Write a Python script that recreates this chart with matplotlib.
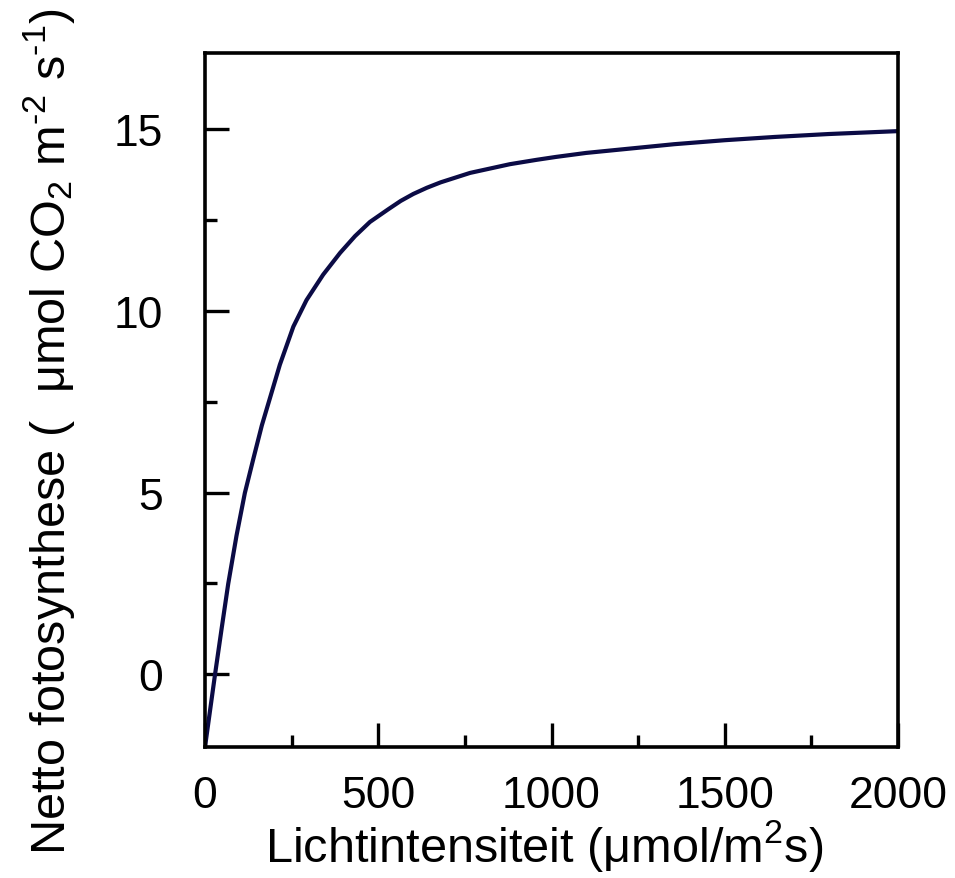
import matplotlib
matplotlib.use("Agg")
import matplotlib.pyplot as plt
from matplotlib.ticker import MultipleLocator

plt.rcParams['font.family'] = ['Liberation Sans', 'DejaVu Sans']
plt.rcParams['mathtext.fontset'] = 'custom'
plt.rcParams['mathtext.rm'] = 'Liberation Sans'
plt.rcParams['mathtext.it'] = 'Liberation Sans:italic'

# Data
light = [0, 29, 48, 67, 91, 115, 140, 164, 188, 216, 255, 293, 341, 390, 433,
         476, 529, 565, 601, 640, 680, 765, 880, 957, 1013, 1100, 1227, 1354,
         1500, 1645, 1800, 2000]
net_ps = [-2.0, 0.0, 1.26, 2.49, 3.82, 4.99, 5.95, 6.85, 7.62, 8.52, 9.57, 10.30,
          11.0, 11.6, 12.06, 12.45, 12.80, 13.03, 13.22, 13.39, 13.54, 13.80,
          14.04, 14.16, 14.24, 14.35, 14.47, 14.59, 14.70, 14.79, 14.87, 14.95]
x_ticks = [0, 500, 1000, 1500, 2000]
y_ticks = [0, 5, 10, 15]

fig = plt.figure(figsize=(9.55, 8.79), dpi=100)
ax = fig.add_axes([205/955, 1-748/879, (898-205)/955, (748-54)/879])

ax.plot(light, net_ps, color='#0b0b45', lw=3.0, solid_capstyle='round',
        solid_joinstyle='round')
ax.set_xlim(0, 2000)
ax.set_ylim(-2, 17.1)
ax.set_xticks(x_ticks)
ax.set_yticks(y_ticks)
ax.xaxis.set_minor_locator(MultipleLocator(250))
ax.yaxis.set_minor_locator(MultipleLocator(2.5))
for s in ax.spines.values():
    s.set_linewidth(2.6)
ax.tick_params(which='major', direction='in', length=17, width=2.4,
               labelsize=32, top=False, right=False)
ax.tick_params(axis='x', which='major', pad=20)
ax.tick_params(axis='y', which='major', pad=30)
ax.tick_params(which='minor', direction='in', length=8.5, width=2.4,
               top=False, right=False)

fig.text(544/955, 1-862/879, "Lichtintensiteit (\u03bcmol/m$^{2}$s)", ha='center',
         va='baseline', fontsize=35)
fig.text(0.022, 1-432/879,
         "Netto fotosynthese (  \u03bcmol CO$_{2}$ m$^{\\text{-}2}$ s$^{\\text{-}1}$)",
         rotation=90, ha='left', va='center', fontsize=35)

fig.savefig("out.png", dpi=100)
